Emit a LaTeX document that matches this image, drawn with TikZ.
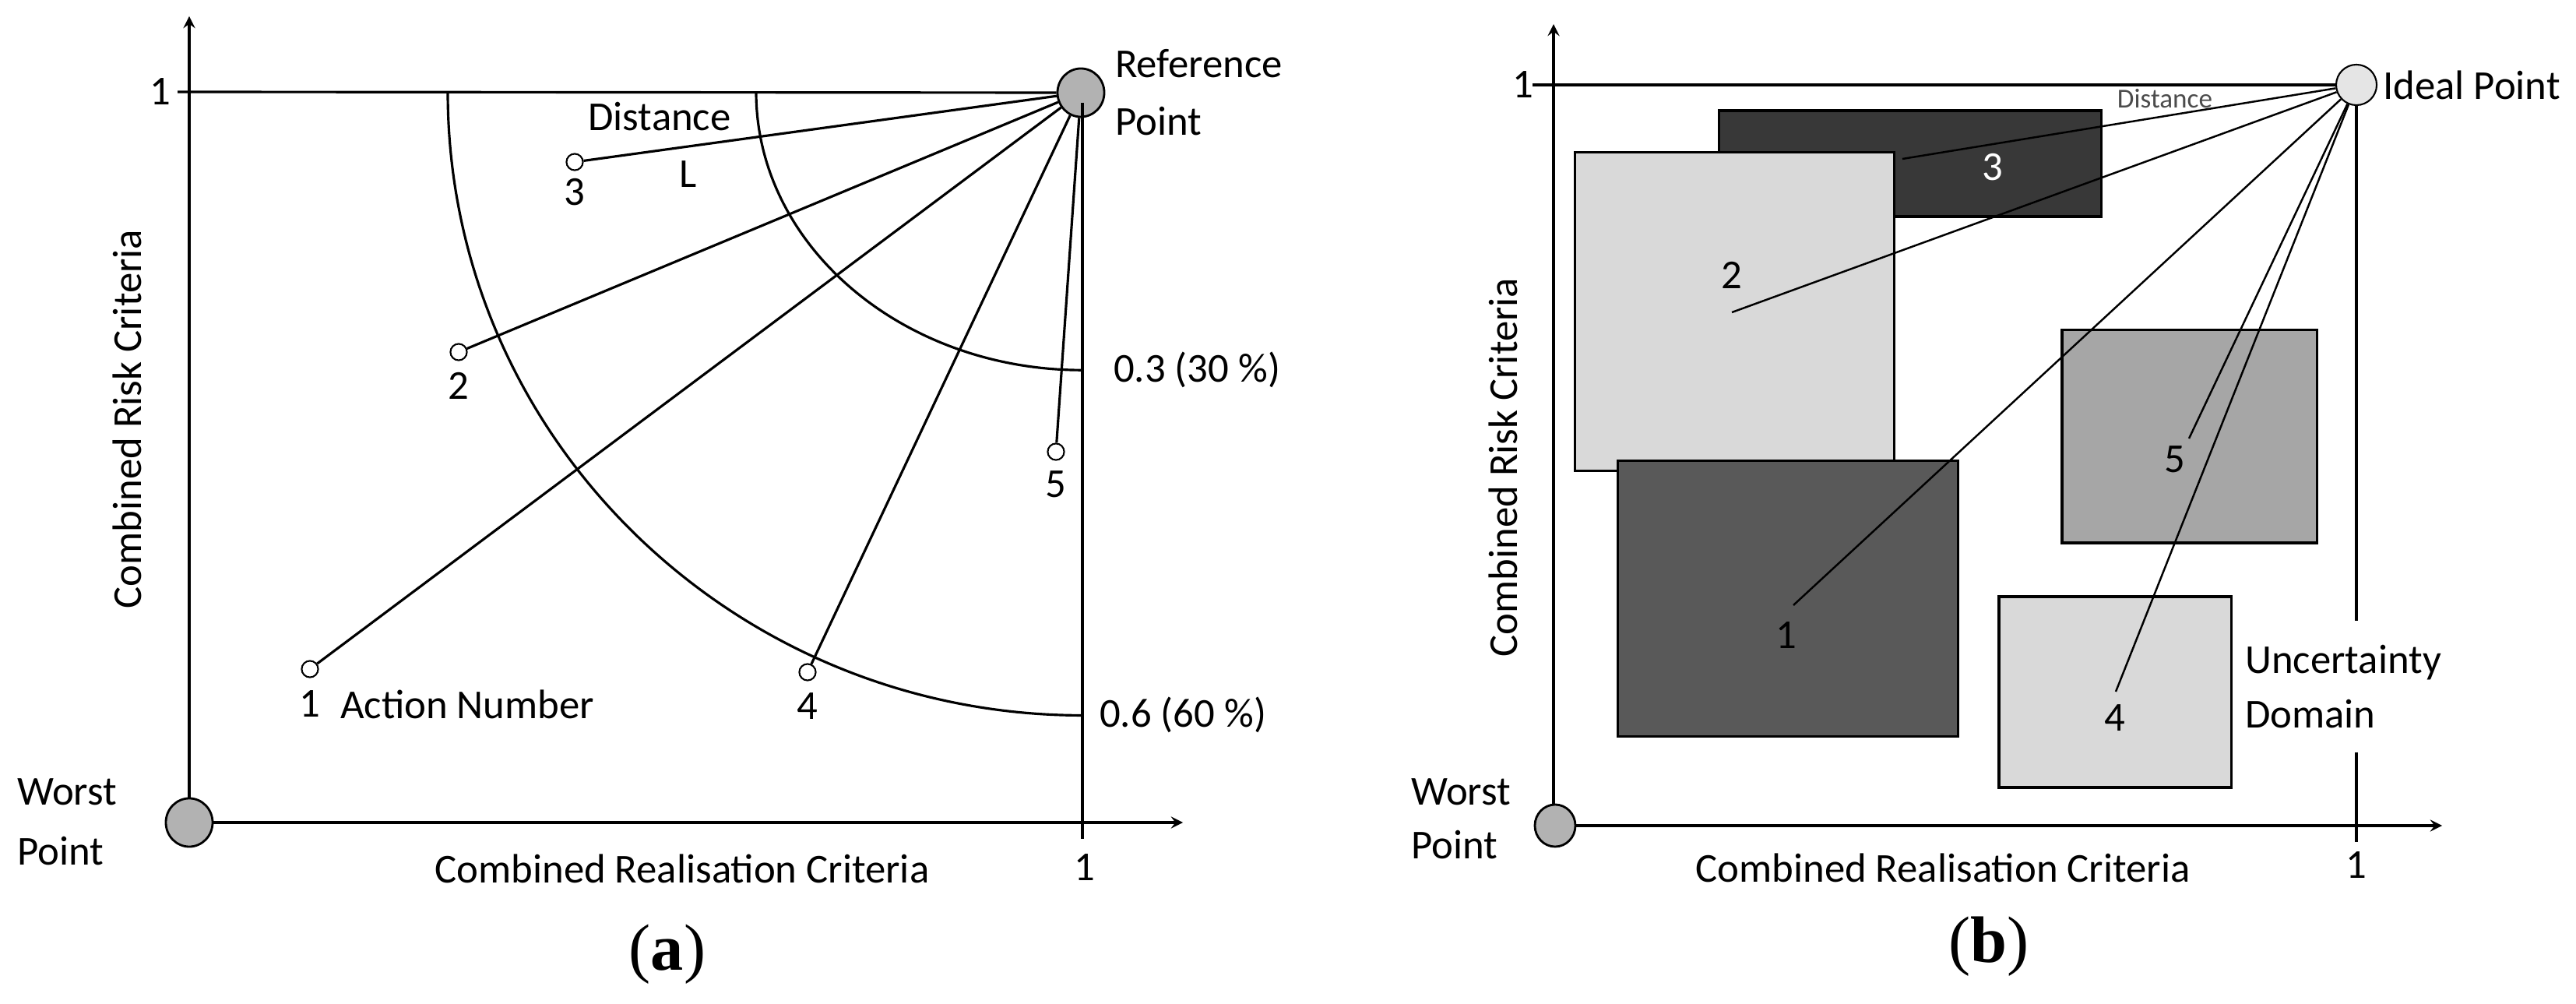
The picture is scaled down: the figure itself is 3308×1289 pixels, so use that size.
\documentclass[tikz,border=0pt]{standalone}
\usepackage{fontspec}
\usetikzlibrary{shapes.geometric}
\setmainfont{Carlito}
\newfontfamily\capfont{Liberation Serif}
\begin{document}
\begin{tikzpicture}[x=0.01cm,y=-0.01cm,
  every node/.style={font=\fontsize{15}{18}\selectfont, inner sep=1pt},
  ln/.style={line width=0.9pt},
  ax/.style={line width=0.9pt,-stealth},
  pt/.style={circle,draw,line width=0.6pt,fill=white,minimum size=6pt,inner sep=0pt},
  big/.style={ellipse,draw,line width=0.8pt,fill=gray!60,minimum width=0.6cm,minimum height=0.62cm,inner sep=0pt},
  box/.style={draw,line width=0.9pt}]
\useasboundingbox (0,0) rectangle (3308,1289);
% ===== panel (a)
\coordinate (ao) at (243,1056);
\coordinate (ay) at (243,21);
\coordinate (ax) at (1519,1056);
\draw[ax] (ao) -- (ay);
\draw[ax] (ao) -- (ax);
\node[big] (worstA) at (243,1056) {};
\node[big] (refA) at (1388,119) {};
\coordinate (one1) at (228,118);
\draw[ln] (one1) -- (refA.west);
\coordinate (vtop) at (1390,132);
\coordinate (vbot) at (1390,1077);
\draw[ln] (vtop) -- (vbot);
\draw[ln] (575,118) arc[start angle=180,end angle=270,x radius=8.15cm,y radius=8.00cm];
\draw[ln] (971,118) arc[start angle=180,end angle=270,x radius=4.19cm,y radius=3.57cm];
\node[pt] (p3) at (738,208) {};
\node[pt] (p2) at (589,452) {};
\node[pt] (p1) at (398,859) {};
\node[pt] (p4) at (1037,863) {};
\node[pt] (p5) at (1356,580) {};
\foreach \p in {p1,p2,p3,p4,p5} \draw[ln] (\p) -- (refA);
\node at (738,247) {3};
\node at (884,224) {L};
\node at (847,150) {Distance};
\node at (589,495) {2};
\node at (398,904) {1};
\node[anchor=west] at (433,904) {Action Number};
\node at (1037,907) {4};
\node at (1356,622) {5};
\node[anchor=west] at (1426,475) {0.3 (30 \%)};
\node[anchor=west] at (1408,918) {0.6 (60 \%)};
\node[anchor=west] at (1428,82) {Reference};
\node[anchor=west] at (1428,156) {Point};
\node[anchor=west] at (18,1017) {Worst};
\node[anchor=west] at (18,1093) {Point};
\node at (876,1115) {Combined Realisation Criteria};
\node at (1393,1114) {1};
\node at (206,118) {1};
\node[rotate=90] at (163,538) {Combined Risk Criteria};
\node[font=\capfont\fontsize{24}{28}\selectfont] at (857,1225) {(\textbf{a})};
% ===== panel (b)
\coordinate (bo) at (1995,1060);
\coordinate (by) at (1995,31);
\coordinate (bx) at (3136,1060);
\draw[ax] (bo) -- (by);
\draw[ax] (bo) -- (bx);
\node[big,minimum width=0.52cm,minimum height=0.54cm] (worstB) at (1997,1060) {};
\coordinate (bone) at (1968,109);
\draw[ln] (bone) -- (3005,109);
\draw[ln] (3026,109) -- (3026,797);
\draw[ln] (3026,966) -- (3026,1081);
\node[box,fill=black!78,minimum width=4.9cm,minimum height=1.36cm] (r3) at (2453,210) {};
\node[box,fill=black!15,minimum width=4.09cm,minimum height=4.08cm] (r2) at (2227.5,400) {};
\node[box,fill=black!65,minimum width=4.36cm,minimum height=3.53cm] (r1) at (2296,768.5) {};
\node[box,fill=black!35,minimum width=3.27cm,minimum height=2.73cm] (r5) at (2811.5,560.5) {};
\node[box,fill=black!15,minimum width=2.98cm,minimum height=2.45cm] (r4) at (2716,888.5) {};
\node[ellipse,draw,line width=0.6pt,fill=gray!20,minimum width=0.52cm,minimum height=0.52cm,inner sep=0pt] (ideal) at (3026,109) {};
\coordinate (e3) at (2443,204);
\coordinate (e2) at (2224,401);
\coordinate (e1) at (2303,777);
\coordinate (e5) at (2811,563);
\coordinate (e4) at (2717,888);
\foreach \e in {e1,e2,e3,e4,e5} \draw[line width=0.7pt] (\e) -- (ideal);
\node[text=white] at (2559,215) {3};
\node at (2224,353) {2};
\node at (2294,816) {1};
\node at (2793,590) {5};
\node at (2716,922) {4};
\node[font=\fontsize{10}{12}\selectfont,text=black!70] at (2780,127) {Distance};
\node[anchor=west] at (3056,109) {Ideal Point};
\node[anchor=west] at (2879,851) {Uncertainty};
\node[anchor=west] at (2879,917) {Domain};
\node[anchor=west] at (1808,1017) {Worst};
\node[anchor=west] at (1808,1085) {Point};
\node at (2495,1114) {Combined Realisation Criteria};
\node at (3026,1111) {1};
\node at (1956,109) {1};
\node[rotate=90] at (1930,600) {Combined Risk Criteria};
\node[font=\capfont\fontsize{24}{28}\selectfont] at (2554,1215) {(\textbf{b})};
\end{tikzpicture}
\end{document}
